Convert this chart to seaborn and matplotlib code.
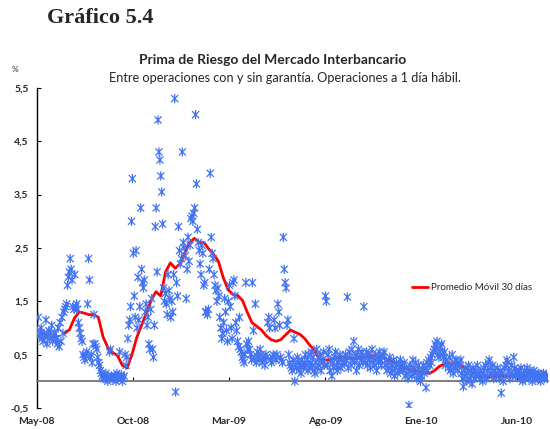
import numpy as np
import pandas as pd
import seaborn as sns
import matplotlib.pyplot as plt
from matplotlib.path import Path

# daily spread readings, grouped by month (May-08 .. Jul-10)
may08 = [0.95, 1.2, 0.85, 0.9, 1.0, 0.8, 0.75, 0.9, 0.85, 1.15, 0.7, 0.85, 0.95, 0.8, 0.9, 1.05, 0.75, 0.85, 0.9, 0.8]
jun08 = [0.8, 0.7, 1.0, 0.65, 1.1, 0.75, 1.2, 0.9, 1.3, 1.35, 1.4, 1.45, 1.8, 1.95, 2.05, 2.3, 2.1, 1.9, 1.4, 1.35, 2.0]
jul08 = [1.4, 1.45, 1.35, 1.1, 1.0, 0.9, 0.8, 0.75, 0.5, 0.45, 0.4, 0.5, 0.55, 1.45, 2.3, 1.9, 0.45, 0.5, 0.35, 0.7, 1.25]
ago08 = [0.7, 0.65, 0.6, 0.45, 0.35, 0.3, 0.2, 0.15, 0.1, 0.05, 0.1, 0.05, 0.15, 0.1, 0.0, 0.05, 0.55, 0.6, 0.1, 0.05, 0.08]
sep08 = [0.05, 0.1, 0.0, 0.15, 0.05, 0.1, 0.55, 0.08, 0.12, 0.0, 0.05, 0.1, 0.5, 0.3, 0.45, 0.8, 1.05, 1.15, 1.4, 3.0, 3.8]
oct08 = [2.4, 1.6, 1.2, 2.45, 1.0, 1.95, 1.15, 1.4, 3.25, 2.1, 1.85, 1.75, 1.9, 1.3, 1.45, 1.05, 1.2, 0.7, 0.6, 1.35, 1.55]
nov08 = [0.6, 0.45, 1.05, 2.9, 3.25, 2.05, 4.9, 4.3, 4.15, 3.85, 3.55, 2.95, 1.75, 1.5, 1.65, 1.45, 1.25, 2.0, 1.7, 1.55, 1.2]
dic08 = [1.5, 1.3, 2.0, 5.3, -0.2, 1.85, 1.6, 2.9, 2.45, 2.2, 2.3, 4.3, 2.6, 2.5, 2.35, 1.55, 2.1, 2.7, 2.25, 2.55]
ene09 = [3.05, 3.1, 3.0, 3.15, 3.25, 5.0, 3.7, 2.85, 2.6, 2.45, 2.2, 2.0, 2.55, 2.4, 1.8, 1.85, 1.3, 1.3, 1.25, 1.35, 2.1]
feb09 = [3.9, 2.7, 2.4, 2.3, 2.0, 1.8, 1.7, 1.5, 1.75, 1.6, 1.2, 1.0, 0.8, 0.9, 1.1, 1.55, 1.3, 0.95, 0.75, 1.5]
mar09 = [1.8, 1.4, 1.0, 0.8, 1.85, 1.9, 1.6, 1.1, 0.95, 0.75, 0.65, 1.2, 0.6, 0.55, 0.45, 0.4, 0.35, 0.5, 1.85, 0.7, 0.6]
abr09 = [0.75, 0.6, 0.5, 0.4, 1.85, 0.95, 0.45, 1.45, 0.35, 0.55, 0.45, 0.4, 0.6, 0.5, 0.35, 0.45, 0.4, 0.3, 0.5, 0.45]
may09 = [1.1, 1.2, 1.0, 0.4, 0.35, 0.45, 0.5, 1.15, 1.0, 0.4, 0.5, 1.45, 1.3, 1.05, 0.45, 0.4, 0.35, 2.7, 2.1, 1.85, 1.75]
jun09 = [1.05, 1.15, 0.5, 0.35, 0.3, 0.25, 0.2, 0.4, 0.8, 0.0, 0.3, 0.25, 0.45, 0.35, 0.2, 0.3, 0.15, 0.4, 0.3, 0.25, 0.35, 0.5]
jul09 = [0.3, 0.4, 0.2, 0.5, 0.25, 0.35, 0.55, 0.3, 0.45, 0.2, 0.15, 0.35, 0.6, 0.25, 0.3, 0.45, 0.5, 0.2, 0.4, 0.35, 0.55, 0.3]
ago09 = [1.6, 1.5, 0.3, 0.5, 0.6, 0.2, 0.4, 0.1, 0.35, 0.25, 0.45, 0.55, 0.3, 0.2, 0.35, 0.4, 0.5, 0.25, 0.3, 0.45, 0.35]
sep09 = [0.35, 0.5, 0.4, 1.58, 0.25, 0.55, 0.45, 0.3, 0.6, 0.4, 0.75, 0.35, 0.5, 0.2, 0.45, 0.6, 0.3, 0.5, 0.4, 0.55, 0.35]
oct09 = [1.4, 0.45, 0.35, 0.55, 0.3, 0.5, 0.4, 0.25, 0.45, 0.6, 0.35, 0.4, 0.3, 0.5, 0.2, 0.45, 0.35, 0.55, 0.4, 0.3, 0.45]
nov09 = [0.5, 0.55, 0.3, 0.4, 0.2, 0.35, 0.25, 0.45, 0.15, 0.3, 0.2, 0.4, 0.1, 0.25, 0.35, 0.15, 0.3, 0.2, 0.4, 0.25]
dic09 = [0.3, 0.2, 0.35, 0.1, 0.25, 0.15, 0.05, -0.45, 0.3, 0.2, 0.1, 0.4, 0.25, 0.15, 0.35, 0.05, 0.2, 0.3, 0.1, 0.0]
ene10 = [0.1, 0.2, 0.3, 0.15, 0.25, -0.12, 0.35, 0.2, 0.4, 0.3, 0.45, 0.35, 0.5, 0.55, 0.6, 0.7, 0.65, 0.75, 0.5, 0.45, 0.55]
feb10 = [0.65, 0.7, 0.5, 0.45, 0.55, 0.3, 0.4, 0.35, 0.25, 0.45, 0.2, 0.3, 0.5, 0.15, 0.35, 0.25, 0.4, 0.3, 0.2, 0.35]
mar10 = [0.3, 0.4, 0.15, 0.05, -0.1, 0.2, 0.1, 0.25, 0.0, 0.15, 0.3, 0.05, 0.2, 0.1, -0.05, 0.25, 0.15, 0.05, 0.2, 0.1, 0.3, 0.15]
abr10 = [0.1, 0.05, 0.2, 0.15, 0.0, 0.25, 0.1, 0.3, 0.05, 0.2, 0.35, 0.4, 0.15, 0.25, 0.1, 0.3, 0.05, 0.2, 0.15, 0.1, 0.25]
may10 = [0.1, 0.05, 0.2, -0.22, 0.15, 0.0, 0.25, 0.1, 0.3, 0.4, 0.35, 0.2, 0.05, 0.15, 0.3, 0.1, 0.45, 0.25, 0.1, 0.2]
jun10 = [0.15, 0.1, 0.2, 0.05, 0.25, 0.1, 0.0, 0.15, 0.2, 0.05, 0.1, 0.25, 0.15, 0.05, 0.2, 0.1, 0.15, 0.0, 0.1, 0.2, 0.15, 0.05]
jul10 = [0.1, 0.05, 0.15, 0.1, 0.0, 0.12, 0.08, 0.15, 0.05, 0.1, 0.12, 0.05]

months = [may08, jun08, jul08, ago08, sep08, oct08, nov08, dic08, ene09, feb09, mar09, abr09,
          may09, jun09, jul09, ago09, sep09, oct09, nov09, dic09, ene10, feb10, mar10, abr10,
          may10, jun10, jul10]

# 30-day moving average, read weekly (starts mid Jun-08)
ma_start = 1.45
ma_step = 0.25
ma_values = [0.9, 0.97, 1.18, 1.3, 1.28, 1.25, 1.25, 1.2, 0.83, 0.63, 0.54, 0.48, 0.3, 0.25, 0.5,
             0.82, 1.05, 1.28, 1.52, 1.68, 1.6, 2.05, 2.22, 2.12, 2.2, 2.4, 2.6, 2.68, 2.6, 2.6,
             2.48, 2.38, 2.25, 1.95, 1.72, 1.63, 1.61, 1.52, 1.3, 1.1, 1.03, 0.96, 0.85, 0.78,
             0.75, 0.78, 0.87, 0.96, 0.92, 0.88, 0.8, 0.68, 0.58, 0.42, 0.4, 0.4, 0.43, 0.45,
             0.45, 0.43, 0.43, 0.43, 0.45, 0.47, 0.48, 0.47, 0.45, 0.42, 0.38, 0.33, 0.28, 0.25,
             0.22, 0.2, 0.18, 0.16, 0.15, 0.2, 0.28, 0.32, 0.33, 0.33, 0.32, 0.28, 0.22, 0.16,
             0.1, 0.08, 0.08, 0.08, 0.09, 0.1, 0.1, 0.1, 0.1, 0.11, 0.12, 0.13, 0.13, 0.12, 0.11]

tick_pos = [0, 5, 10, 15, 20, 25]
tick_labels = ["May-08", "Oct-08", "Mar-09", "Ago-09", "Ene-10", "Jun-10"]
ytick_vals = [-0.5, 0.5, 1.5, 2.5, 3.5, 4.5, 5.5]
ytick_labels = ["-0,5", "0,5", "1,5", "2,5", "3,5", "4,5", "5,5"]

# build tables (x = months since May-08)
rows = []
for m, vals in enumerate(months):
    span = 0.6 if m == len(months) - 1 else 1.0
    for i, v in enumerate(vals):
        rows.append((m + span * (i + 0.5) / len(vals), v))
pts = pd.DataFrame(rows, columns=["t", "prima"])
ma = pd.DataFrame({"t": ma_start + ma_step * np.arange(len(ma_values)), "prima": ma_values})

# excel-like star: an x with a vertical bar
star = Path([(-1, -1), (1, 1), (-1, 1), (1, -1), (0, -1.3), (0, 1.3)],
            [Path.MOVETO, Path.LINETO, Path.MOVETO, Path.LINETO, Path.MOVETO, Path.LINETO])
blue = "#4273f2"

sns.set_theme(style="white")
plt.rcParams["font.family"] = ["Lato", "DejaVu Sans"]

fig = plt.figure(figsize=(5.5, 4.29), dpi=100)
ax = fig.add_axes([0.067, 0.049, 0.929, 0.746])

sns.lineplot(data=ma, x="t", y="prima", color="#ff0000", linewidth=2.0, ax=ax,
             label="Promedio Móvil 30 días", zorder=2)
sns.scatterplot(data=pts, x="t", y="prima", marker=star, color=blue, edgecolor=blue,
                facecolor="none", s=44, linewidth=0.9, ax=ax, zorder=3, legend=False)

ax.set_xlim(0, 26.6)
ax.set_ylim(-0.5, 5.5)
ax.axhline(0, color="#7f7f7f", linewidth=1.3, zorder=1)

for s in ["top", "right"]:
    ax.spines[s].set_visible(False)
ax.spines["bottom"].set_position(("data", 0))
ax.spines["bottom"].set_color("#7f7f7f")
ax.spines["left"].set_color("black")
ax.spines["left"].set_linewidth(1.0)

ax.set_xticks(tick_pos)
ax.set_xticklabels(tick_labels, fontweight="bold", fontsize=7.5)
ax.tick_params(axis="x", direction="in", length=3, width=0.8, color="black", pad=26, bottom=True)
ax.set_yticks(ytick_vals)
ax.set_yticklabels(ytick_labels, fontweight="bold", fontsize=7.5)
ax.tick_params(axis="y", direction="in", length=3, width=0.8, color="black", pad=6, left=True)
ax.set_xlabel("")
ax.set_ylabel("")

leg = ax.legend(loc="center left", bbox_to_anchor=(0.735, 0.375), frameon=False, fontsize=7,
                handlelength=1.6, handletextpad=0.3, borderpad=0, borderaxespad=0)

fig.text(47 / 550, 1 - 18 / 429, "Gráfico 5.4", family="Liberation Serif", fontweight="bold",
         fontsize=16, va="center", ha="left")
fig.text(273 / 550, 1 - 60 / 429, "Prima de Riesgo del Mercado Interbancario", fontweight="bold",
         fontsize=10, ha="center", va="center")
fig.text(285 / 550, 1 - 78 / 429, "Entre operaciones con y sin garantía. Operaciones a 1 día hábil.",
         fontsize=9.2, ha="center", va="center")
fig.text(12 / 550, 1 - 70 / 429, "%", fontsize=6, ha="left", va="center")

fig.savefig("out.png", dpi=100)
